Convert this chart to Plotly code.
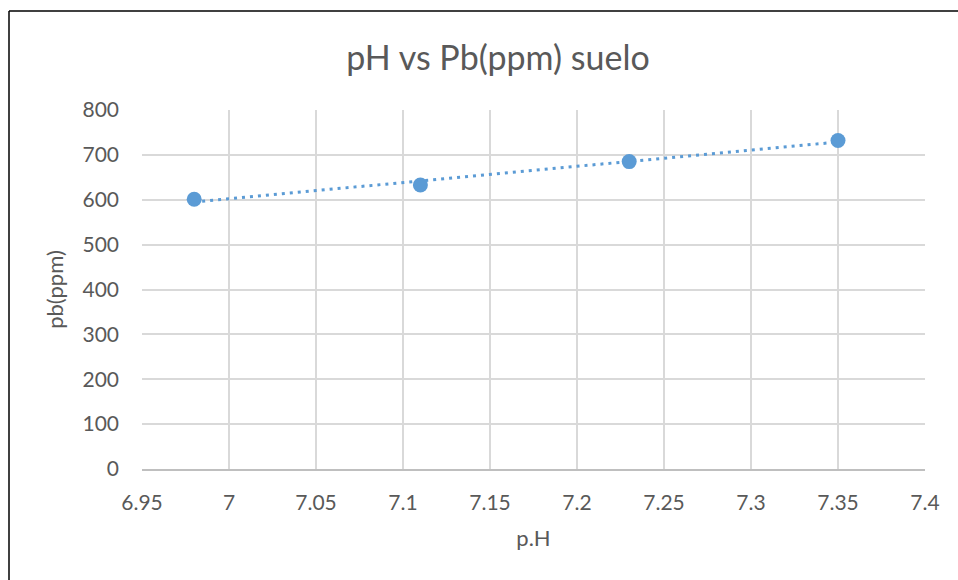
import numpy as np
import plotly.graph_objects as go

# Data
ph_values = [6.98, 7.11, 7.23, 7.35]
pb_ppm = [601, 633, 685, 732]
x_tick_vals = [6.95, 7.0, 7.05, 7.1, 7.15, 7.2, 7.25, 7.3, 7.35, 7.4]
x_tick_text = ["6.95", "7", "7.05", "7.1", "7.15", "7.2", "7.25", "7.3", "7.35", "7.4"]
y_tick_vals = [0, 100, 200, 300, 400, 500, 600, 700, 800]

BLUE = "#5B9BD5"
TXT = "#595959"
GRID = "#D9D9D9"
FONT = "Lato"

# linear trendline (least squares)
slope, intercept = np.polyfit(ph_values, pb_ppm, 1)
tx = [min(ph_values), max(ph_values)]
ty = [slope * v + intercept for v in tx]

fig = go.Figure()
fig.add_trace(go.Scatter(
    x=tx, y=ty, mode="lines",
    line=dict(color=BLUE, width=3, dash="3px,5px"),
    hoverinfo="skip", showlegend=False,
))
fig.add_trace(go.Scatter(
    x=ph_values, y=pb_ppm, mode="markers",
    marker=dict(color=BLUE, size=15, line=dict(width=0)),
    showlegend=False,
))

L, R, T, B = 142, 33, 110, 111
W, H = 958, 580
pw = W - L - R
ph = H - T - B

# chart border (left and top visible)
bx = (9 - L) / pw
by = (H - B - 11) / ph

fig.update_layout(
    width=W, height=H,
    margin=dict(l=L, r=R, t=T, b=B),
    paper_bgcolor="white", plot_bgcolor="white",
    font=dict(family=FONT, color=TXT, size=21),
    title=dict(text="pH vs Pb(ppm) suelo", x=498 / W, xanchor="center",
               xref="container", y=1 - 58 / H, yref="container", yanchor="middle",
               font=dict(size=34, color=TXT, family=FONT)),
    shapes=[
        dict(type="line", xref="paper", yref="paper", x0=bx, x1=bx, y0=by, y1=-1,
             line=dict(color="black", width=1.5), layer="above"),
        dict(type="line", xref="paper", yref="paper", x0=bx, x1=2, y0=by, y1=by,
             line=dict(color="black", width=1.5), layer="above"),
    ],
)
fig.update_xaxes(
    range=[6.95, 7.4], tickvals=x_tick_vals, ticktext=x_tick_text,
    showgrid=True, gridcolor=GRID, gridwidth=1.5,
    showline=True, linecolor="#BFBFBF", linewidth=1.5, mirror=False,
    zeroline=False, ticks="", ticklabelstandoff=14,
    title=dict(text="p.H", standoff=18, font=dict(size=22, color=TXT)),
    tickfont=dict(size=21, color=TXT),
)
fig.update_yaxes(
    range=[0, 800], tickvals=y_tick_vals,
    showgrid=True, gridcolor=GRID, gridwidth=1.5,
    showline=False, zeroline=False, ticks="", ticklabelstandoff=22,
    title=dict(text="pb(ppm)", standoff=12, font=dict(size=22, color=TXT)),
    tickfont=dict(size=21, color=TXT),
)

fig.write_html("out.html")
